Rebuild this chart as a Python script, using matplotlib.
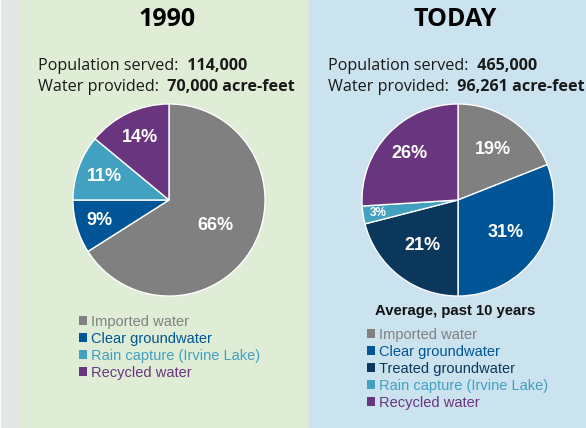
import numpy as np
import matplotlib.pyplot as plt
from matplotlib.patches import Patch, Rectangle

W, H = 586, 428

# data
labels_1990 = ['Imported water', 'Clear groundwater', 'Rain capture (Irvine Lake)', 'Recycled water']
values_1990 = [66, 9, 11, 14]
colors_1990 = ['#808080', '#005596', '#42a0c0', '#6a357f']

labels_today = ['Imported water', 'Clear groundwater', 'Treated groundwater',
                'Rain capture (Irvine Lake)', 'Recycled water']
values_today = [19, 31, 21, 3, 26]
colors_today = ['#808080', '#005596', '#0c375d', '#42a0c0', '#6a357f']

pop_1990, water_1990 = '114,000', '70,000 acre-feet'
pop_today, water_today = '465,000', '96,261 acre-feet'

HEAD_FONT = 'Open Sans'
BODY_FONT = 'Liberation Sans'


def fx(x):
    return x / W


def fy(y):
    return 1 - y / H


fig = plt.figure(figsize=(W / 100, H / 100), dpi=100)
fig.patch.set_facecolor('white')

# background panels
fig.add_artist(Rectangle((fx(1), 0), fx(18), 1, transform=fig.transFigure, color='#e5e6e8', zorder=0))
fig.add_artist(Rectangle((fx(19), 0), fx(290), 1, transform=fig.transFigure, color='#dfedd6', zorder=0))
fig.add_artist(Rectangle((fx(309), 0), fx(277), 1, transform=fig.transFigure, color='#cbe2ef', zorder=0))


def header(cx, title, x0, pop, water):
    fig.text(fx(cx), fy(19), title, ha='center', va='center', fontsize=18,
             fontweight='bold', family=HEAD_FONT)
    for i, (lab, val) in enumerate([('Population served: ', pop), ('Water provided: ', water)]):
        t = fig.text(fx(x0), fy(70 + 21 * i), lab, ha='left', va='baseline',
                     fontsize=11.6, family=HEAD_FONT, color='#1a1a1a')
        fig.add_artist(plt.Annotation(' ' + val, xy=(1, 0), xycoords=t, ha='left', va='bottom',
                                      fontsize=11.6, family=HEAD_FONT, fontweight='bold',
                                      color='#1a1a1a'))


def draw_pie(cx, cy, r, values, colors, label_r, small_size):
    ax = fig.add_axes([fx(cx - r), fy(cy + r), fx(2 * r), 2 * r / H])
    wedges, _ = ax.pie(values, colors=colors, startangle=90, counterclock=False,
                       wedgeprops=dict(edgecolor='white', linewidth=1.0))
    ax.set_xlim(-1.01, 1.01)
    ax.set_ylim(-1.01, 1.01)
    ax.set_aspect('equal')
    ax.axis('off')
    for w, v, lr in zip(wedges, values, label_r):
        ang = np.deg2rad((w.theta1 + w.theta2) / 2)
        ax.text(lr * np.cos(ang), lr * np.sin(ang), f'{v}%', ha='center', va='center',
                color='white', fontweight='bold', family=BODY_FONT,
                fontsize=small_size if v < 5 else 13)
    return ax


header(167, '1990', 38, pop_1990, water_1990)
header(455, 'TODAY', 328, pop_today, water_today)

draw_pie(169, 200, 97, values_1990, colors_1990, [0.55, 0.75, 0.71, 0.72], 9)
draw_pie(458, 200, 97, values_today, colors_today, [0.64, 0.6, 0.6, 0.84, 0.7], 8.5)

fig.text(fx(455), fy(311), 'Average, past 10 years', ha='center', va='center',
         fontsize=10.7, fontweight='bold', family=BODY_FONT, color='#111111')


def legend(x, y, labels, colors):
    handles = [Patch(facecolor=c, edgecolor='none') for c in colors]
    fig.legend(handles, labels, loc='upper left', bbox_to_anchor=(fx(x), fy(y)),
               frameon=False, labelcolor=colors, handlelength=0.55, handleheight=0.55,
               handletextpad=0.25, labelspacing=0.2, borderpad=0, borderaxespad=0,
               prop={'family': BODY_FONT, 'size': 10.5})


legend(79, 315, labels_1990, colors_1990)
legend(367, 328, labels_today, colors_today)

fig.savefig('out.png', dpi=100, facecolor=fig.get_facecolor())
